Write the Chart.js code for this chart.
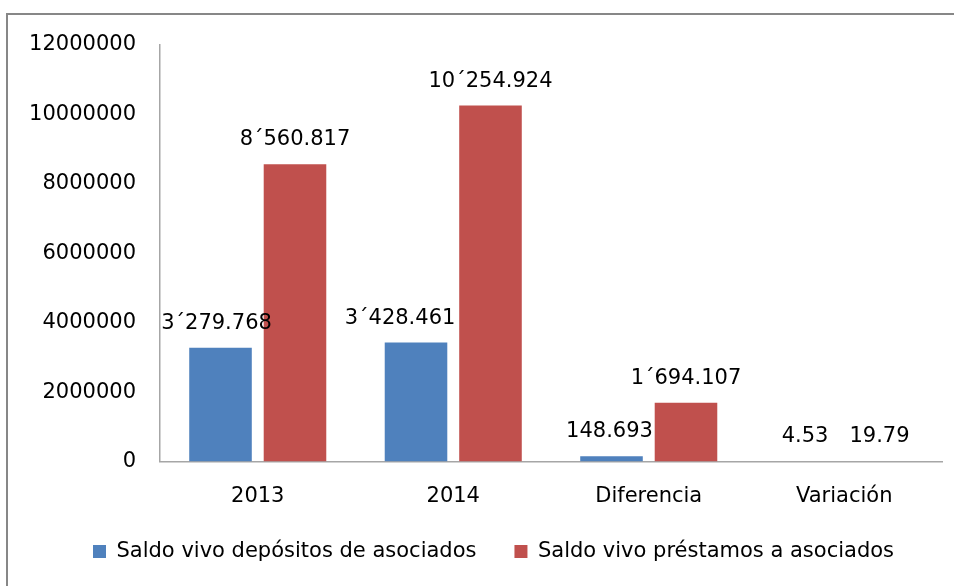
<!DOCTYPE html>
<html>
<head>
<meta charset="utf-8">
<script src="https://cdn.jsdelivr.net/npm/chart.js@4"></script>
<style>
  body { margin: 0; background: #fff; }
  #frame { position: absolute; left: 6px; top: 13px; width: 960px; height: 600px;
    border-left: 2px solid #878787; border-top: 2px solid #878787; }
  #chart { position: absolute; left: 0; top: 0; }
</style>
</head>
<body>
<div id="frame"></div>
<canvas id="chart" width="954" height="586"></canvas>
<script>
const categories = ['2013', '2014', 'Diferencia', 'Variación'];
const seriesNames = ['Saldo vivo depósitos de asociados', 'Saldo vivo préstamos a asociados'];
const depositos = [3279768, 3428461, 148693, 4.53];
const prestamos = [8560817, 10254924, 1694107, 19.79];
const depositosLabels = ['3´279.768', '3´428.461', '148.693', '4.53'];
const prestamosLabels = ['8´560.817', '10´254.924', '1´694.107', '19.79'];
const yTicks = [0, 2000000, 4000000, 6000000, 8000000, 10000000, 12000000];

// small manual nudges of the value labels, like in the original sheet
const labelShift = [[-4, -16, -2, -2], [0, 0, 0, -2]];

const FONT = "'DejaVu Sans', sans-serif";

const valueLabels = {
	id: 'valueLabels',
	afterLayout(chart) {
		// legend starts a bit right of the canvas edge, as in the sheet
		chart.legend.left = 55;
	},
	afterDatasetsDraw(chart) {
		const ctx = chart.ctx;
		ctx.save();
		ctx.font = '21px ' + FONT;
		ctx.fillStyle = '#000';
		ctx.textAlign = 'center';
		ctx.textBaseline = 'alphabetic';
		chart.data.datasets.forEach((ds, di) => {
			chart.getDatasetMeta(di).data.forEach((bar, i) => {
				ctx.fillText(ds.valueText[i], bar.x + labelShift[di][i], bar.y - 19);
			});
		});
		ctx.restore();
	}
};

new Chart(document.getElementById('chart'), {
	type: 'bar',
	data: {
		labels: categories,
		datasets: [
			{ label: seriesNames[0], data: depositos, valueText: depositosLabels, backgroundColor: '#4f81bd' },
			{ label: seriesNames[1], data: prestamos, valueText: prestamosLabels, backgroundColor: '#c0504d' }
		]
	},
	options: {
		responsive: false,
		animation: false,
		categoryPercentage: 0.762,
		barPercentage: 0.84,
		layout: { padding: { left: 0, right: 12, top: 45, bottom: 14 } },
		scales: {
			y: {
				min: 0, max: 12000000,
				afterBuildTicks: s => { s.ticks = yTicks.map(v => ({ value: v })); },
				afterFit: s => { s.width = 160; },
				grid: { display: false, drawTicks: false },
				border: { color: '#a6a6a6', width: 1.5 },
				ticks: { padding: 24, color: '#000', font: { family: FONT, size: 21 }, callback: v => String(v) }
			},
			x: {
				afterFit: s => { s.height = 41.5; },
				grid: { display: false, drawTicks: false },
				border: { color: '#a6a6a6', width: 1.5 },
				ticks: { padding: 22, color: '#000', font: { family: FONT, size: 21 }, maxRotation: 0 }
			}
		},
		plugins: {
			legend: {
				position: 'bottom',
				align: 'start',
				labels: { boxWidth: 13, boxHeight: 13, padding: 38, color: '#000', font: { family: FONT, size: 21 } }
			},
			tooltip: { enabled: false }
		}
	},
	plugins: [valueLabels]
});
</script>
</body>
</html>
